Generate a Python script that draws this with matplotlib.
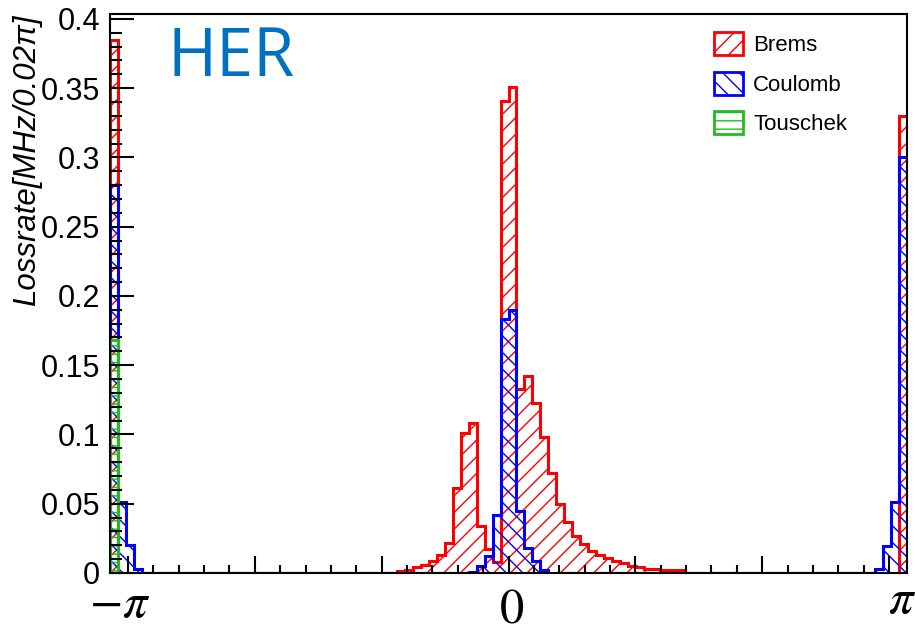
import numpy as np
import matplotlib.pyplot as plt
from matplotlib.patches import Patch
from matplotlib.ticker import MultipleLocator, FuncFormatter

# 100 bins of 0.02*pi from -pi to pi
n_bins = 100
edges = np.linspace(-np.pi, np.pi, n_bins + 1)

# non-empty bins (bin index -> loss rate)
brems_bins = [0, 36, 37, 38, 39, 40, 41, 42, 43, 44, 45, 46, 47, 48, 49, 50,
              51, 52, 53, 54, 55, 56, 57, 58, 59, 60, 61, 62, 63, 64, 65, 66,
              67, 68, 69, 70, 71, 99]
brems_vals = [0.385, 0.0012, 0.0025, 0.004, 0.006, 0.009, 0.013, 0.022, 0.061,
              0.101, 0.108, 0.034, 0.017, 0.008, 0.341, 0.351, 0.133, 0.142,
              0.123, 0.098, 0.072, 0.050, 0.037, 0.027, 0.021, 0.016, 0.013,
              0.011, 0.009, 0.007, 0.005, 0.004, 0.003, 0.003, 0.002, 0.002,
              0.002, 0.330]

coulomb_bins = [0, 1, 2, 3, 45, 46, 47, 48, 49, 50, 51, 52, 53, 54, 96, 97, 98, 99]
coulomb_vals = [0.280, 0.051, 0.020, 0.003, 0.001, 0.005, 0.012, 0.042, 0.183,
                0.190, 0.045, 0.018, 0.009, 0.002, 0.003, 0.0195, 0.051, 0.300]

touschek_bins = [0]
touschek_vals = [0.168]


def fill_bins(idx, vals):
    h = np.zeros(n_bins)
    h[idx] = vals
    return h


series = [
    ("Brems", fill_bins(brems_bins, brems_vals), "#ff0000", "//"),
    ("Coulomb", fill_bins(coulomb_bins, coulomb_vals), "#0000ff", "\\\\"),
    ("Touschek", fill_bins(touschek_bins, touschek_vals), "#22bb22", "--"),
]

plt.rcParams['font.family'] = ['Liberation Sans', 'DejaVu Sans']
plt.rcParams['hatch.linewidth'] = 1.0

fig = plt.figure(figsize=(9.15, 6.33), dpi=100)
ax = fig.add_axes([110 / 915, 1 - 573 / 633, 797 / 915, 559 / 633])

# hatched fill first, then the step outline like ROOT does
for name, h, color, hatch in series:
    ax.stairs(h, edges, fill=True, facecolor='none', edgecolor=color,
              hatch=hatch, linewidth=0)
    ax.stairs(h, edges, color=color, linewidth=2.2)

ax.set_xlim(-np.pi, np.pi)
ax.set_ylim(0, 0.4035)

# axis frame and ticks, ROOT style
for side in ax.spines.values():
    side.set_linewidth(1.5)
ax.xaxis.set_major_locator(MultipleLocator(1))
ax.xaxis.set_minor_locator(MultipleLocator(0.2))
ax.yaxis.set_major_locator(MultipleLocator(0.05))
ax.yaxis.set_minor_locator(MultipleLocator(0.01))
ax.yaxis.set_major_formatter(FuncFormatter(lambda v, p: "%g" % round(v, 3)))
ax.tick_params(axis='both', which='both', direction='in', width=1.5,
               top=False, right=False)
ax.tick_params(axis='x', which='major', length=12, labelbottom=False)
ax.tick_params(axis='x', which='minor', length=6)
ax.tick_params(axis='y', which='major', length=17, labelsize=22, pad=7)
ax.tick_params(axis='y', which='minor', length=8.5)

# x labels put in by hand in the original
fig.text(120 / 915, 1 - 605 / 633, r'$-\pi$', fontsize=35, ha='center',
         va='center', math_fontfamily='stix')
fig.text(512 / 915, 1 - 610 / 633, r'$0$', fontsize=35, ha='center',
         va='center', math_fontfamily='stix')
fig.text(902 / 915, 1 - 600 / 633, r'$\pi$', fontsize=35, ha='center',
         va='center', math_fontfamily='stix')

fig.text(27 / 915, 1 - 14 / 633, 'Lossrate[MHz/0.02π]', rotation=90,
         style='italic', fontsize=22.5, ha='center', va='top')

fig.text(168 / 915, 1 - 58 / 633, 'HER', color='#0070c0', fontsize=48,
         family='Open Sans', ha='left', va='center')

handles = [Patch(facecolor='none', edgecolor=c, hatch=ht, linewidth=2)
           for _, _, c, ht in series]
ax.legend(handles, [s[0] for s in series], loc='upper left',
          bbox_to_anchor=(0.758, 0.967), frameon=False, fontsize=16,
          handlelength=1.3, handleheight=1.2, handletextpad=0.45,
          labelspacing=0.7, borderpad=0, borderaxespad=0)

plt.savefig("out.png", dpi=100)
